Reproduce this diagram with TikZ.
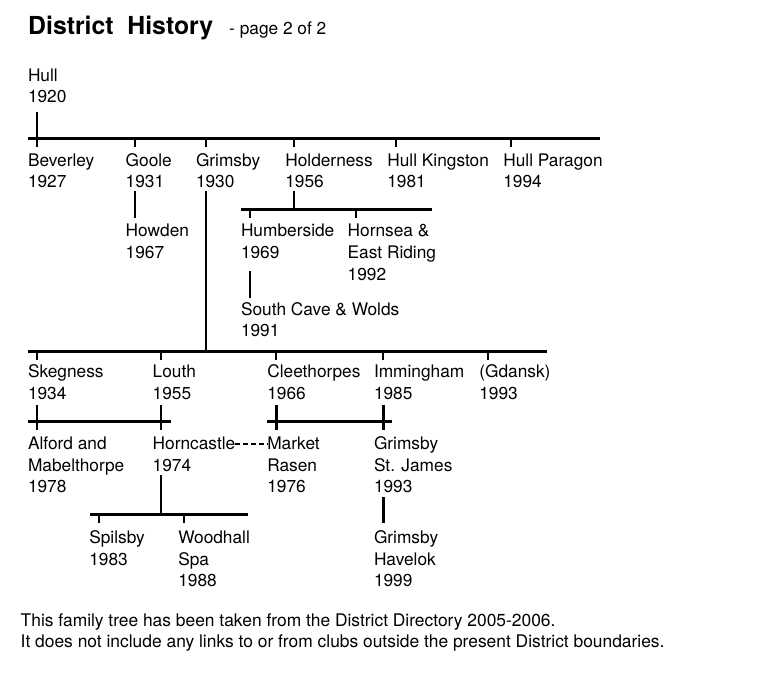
\documentclass[tikz,border=0pt]{standalone}
\usepackage{fontspec}
\setmainfont{TeX Gyre Heros}
\newcommand{\lblfont}{\fontsize{17.3}{21.7}\selectfont}
\newcommand{\fstrut}{\rule{0pt}{15pt}}
\tikzset{
  lbl/.style={anchor=north west, inner sep=0pt, outer sep=0pt, align=left, font=\lblfont},
  bar/.style={line width=3pt},
  vline/.style={line width=2pt},
  thickv/.style={line width=3pt},
  dashlink/.style={line width=1.5pt, dash pattern=on 5pt off 3pt},
}
\begin{document}
\begin{tikzpicture}[x=1pt,y=-1pt]
\useasboundingbox (0,0) rectangle (773,685);
% title
\node[anchor=base west, inner sep=0pt, font={\fontsize{24.8}{28}\selectfont\bfseries}] (title) at (28,34.3) {District\ \ History};
\node[anchor=base west, inner sep=0pt, font=\lblfont] (page) at (229,35) {- page 2 of 2};
% labels (y = first baseline - 15)
\node[lbl] (hull) at (28,66) {\fstrut Hull\\1920};
\node[lbl] (beverley) at (28,151) {\fstrut Beverley\\1927};
\node[lbl] (goole) at (125.7,151) {\fstrut Goole\\1931};
\node[lbl] (grimsby) at (196,151) {\fstrut Grimsby\\1930};
\node[lbl] (holderness) at (285.3,151) {\fstrut Holderness\\1956};
\node[lbl] (hullk) at (387.3,151) {\fstrut Hull Kingston\\1981};
\node[lbl] (hullp) at (503.3,151) {\fstrut Hull Paragon\\1994};
\node[lbl] (howden) at (125.7,221.7) {\fstrut Howden\\1967};
\node[lbl] (humberside) at (241,221.7) {\fstrut Humberside\\1969};
\node[lbl] (hornsea) at (347.7,221.7) {\fstrut Hornsea \&\\East Riding\\1992};
\node[lbl] (southcave) at (241,300) {\fstrut South Cave \& Wolds\\1991};
\node[lbl] (skegness) at (28,362.3) {\fstrut Skegness\\1934};
\node[lbl] (louth) at (152.7,362.3) {\fstrut Louth\\1955};
\node[lbl] (cleethorpes) at (267.3,362.3) {\fstrut Cleethorpes\\1966};
\node[lbl] (immingham) at (374,362.3) {\fstrut Immingham\\1985};
\node[lbl] (gdansk) at (479.3,362.3) {\fstrut (Gdansk)\\1993};
\node[lbl] (alford) at (28,434.3) {\fstrut Alford and\\Mabelthorpe\\1978};
\node[lbl] (horncastle) at (152.7,434.3) {\fstrut Horncastle\\1974};
\node[lbl] (market) at (267.3,434.3) {\fstrut Market\\Rasen\\1976};
\node[lbl] (gsj) at (374,434.3) {\fstrut Grimsby\\St. James\\1993};
\node[lbl] (spilsby) at (89.3,528.3) {\fstrut Spilsby\\1983};
\node[lbl] (woodhall) at (178.3,528.3) {\fstrut Woodhall\\Spa\\1988};
\node[lbl] (havelok) at (374,528.3) {\fstrut Grimsby\\Havelok\\1999};
\node[lbl, font={\fontsize{17.4}{21}\selectfont}] (footer) at (20.7,611.7) {\fstrut This family tree has been taken from the District Directory 2005-2006.\\It does not include any links to or from clubs outside the present District boundaries.};
% coordinates
\coordinate (b1l) at (28,138.3); \coordinate (b1r) at (600,138.3);
\coordinate (b2l) at (28,351); \coordinate (b2r) at (547,351);
\coordinate (bhl) at (241,209); \coordinate (bhr) at (432,209);
\coordinate (bsl) at (28,421.7); \coordinate (bsr) at (170.7,421.7);
\coordinate (bcl) at (267.3,421.7); \coordinate (bcr) at (391.7,421.7);
\coordinate (bwl) at (90,514); \coordinate (bwr) at (247.7,514);
% bars
\draw[bar] (b1l) -- (b1r);
\draw[bar] (b2l) -- (b2r);
\draw[bar] (bhl) -- (bhr);
\draw[bar] (bsl) -- (bsr);
\draw[bar] (bcl) -- (bcr);
\draw[bar] (bwl) -- (bwr);
% hull
\draw[vline] (36.7,112) -- (36.7,138.3);
% ticks under bar 1
\foreach \x in {36.7,135,205.7,294,396,510.7} \draw[vline] (\x,138.3) -- (\x,147);
% level 2
\draw[vline] (135,191) -- (135,218);
\draw[vline] (205.7,191) -- (205.7,351);
\draw[vline] (294,191) -- (294,209);
\foreach \x in {250,355.7} \draw[vline] (\x,209) -- (\x,218);
\draw[vline] (250,271) -- (250,298.3);
% ticks under bar 2
\foreach \x in {36.7,161,276,383.3,488.3} \draw[vline] (\x,351) -- (\x,360);
% level 3
\draw[vline] (36.7,405) -- (36.7,430);
\draw[vline] (161,405) -- (161,430);
\draw[thickv] (276,405) -- (276,430);
\draw[thickv] (383.3,405) -- (383.3,430);
\coordinate (hcend) at (235,444); \coordinate (mrstart) at (267.3,444);
\draw[dashlink] (hcend) -- (mrstart);
\draw[vline] (161,475) -- (161,514);
\foreach \x in {99,184} \draw[vline] (\x,514) -- (\x,523.3);
\draw[thickv] (383.3,497) -- (383.3,522.7);
\end{tikzpicture}
\end{document}
